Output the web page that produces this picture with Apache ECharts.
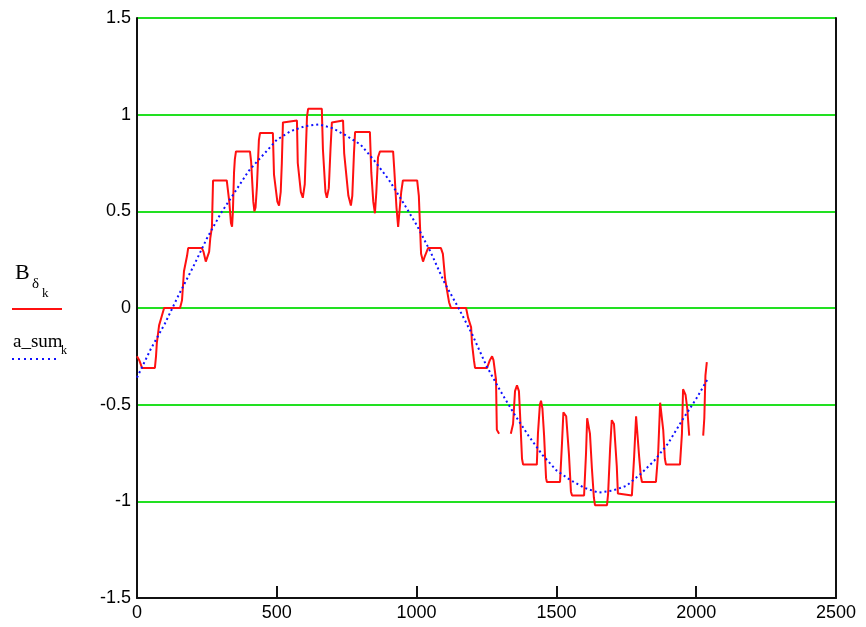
<!DOCTYPE html>
<html>
<head>
<meta charset="utf-8">
<script src="https://cdn.jsdelivr.net/npm/echarts@6/dist/echarts.min.js"></script>
<style>
  html, body { margin: 0; padding: 0; background: #fff; }
  #chart { width: 866px; height: 627px; }
</style>
</head>
<body>
<div id="chart"></div>
<script>
// B_delta_k (red, stepped) - null marks a gap in the trace
const redX = [0, 8, 18, 64, 68, 71, 79, 89, 97, 154, 161, 168, 179, 183, 232, 238, 246, 252, 258, 262, 268, 272,
  321, 330, 336, 340, 343, 347, 350, 354, 404, 408, 416, 420, 424, 429, 436, 440, 486, 490, 502, 508, 514, 518,
  522, 526, 572, 575, 586, 593, 600, 604, 608, 612, 661, 665, 674, 679, 686, 692, 697, 701, 737, 741, 756, 765,
  770, 776, 780, 833, 838, 845, 851, 856, 862, 869, 916, 920, 928, 934, 940, 945, 951, 1002, 1008, 1016, 1023,
  1030, 1041, 1087, 1094, 1102, 1109, 1116, 1123, 1177, 1184, 1195, 1198, 1205, 1209, 1252, 1262, 1270, 1275,
  1284, 1287, 1295, 1316, 1337, 1345, 1352, 1359, 1366, 1370, 1377, 1381, 1430, 1434, 1441, 1445, 1450, 1456,
  1463, 1466, 1513, 1520, 1525, 1530, 1535, 1545, 1552, 1556, 1599, 1606, 1610, 1614, 1620, 1627, 1634, 1638,
  1681, 1685, 1692, 1698, 1702, 1706, 1716, 1720, 1724, 1770, 1778, 1785, 1790, 1796, 1802, 1806, 1856, 1864,
  1871, 1876, 1882, 1888, 1892, 1942, 1949, 1953, 1958, 1962, 1968, 1975, 2000, 2025, 2029, 2033, 2038];
const redY = [-0.25, -0.27, -0.31, -0.31, -0.25, -0.18, -0.09, -0.04, 0.0, 0.0, 0.04, 0.19, 0.27, 0.31, 0.31, 0.29,
  0.24, 0.24, 0.29, 0.36, 0.42, 0.66, 0.66, 0.55, 0.44, 0.42, 0.50, 0.70, 0.77, 0.81, 0.81, 0.76, 0.55, 0.50,
  0.52, 0.63, 0.87, 0.905, 0.905, 0.69, 0.55, 0.53, 0.60, 0.75, 0.96, 0.97, 0.97, 0.75, 0.60, 0.57, 0.64, 0.82,
  0.99, 1.03, 1.03, 0.82, 0.60, 0.57, 0.62, 0.82, 0.96, 0.97, 0.97, 0.80, 0.58, 0.53, 0.58, 0.80, 0.91, 0.91,
  0.70, 0.55, 0.49, 0.60, 0.78, 0.81, 0.81, 0.72, 0.52, 0.42, 0.52, 0.60, 0.66, 0.66, 0.58, 0.28, 0.24, 0.27,
  0.31, 0.31, 0.28, 0.15, 0.09, 0.03, 0.0, 0.0, -0.05, -0.10, -0.18, -0.27, -0.31, -0.31, -0.27, -0.25, -0.27,
  -0.37, -0.63, -0.65, null, -0.65, -0.60, -0.43, -0.40, -0.43, -0.55, -0.78, -0.81, -0.81, -0.65, -0.50, -0.48,
  -0.52, -0.66, -0.88, -0.90, -0.90, -0.70, -0.54, -0.53, -0.56, -0.76, -0.95, -0.97, -0.97, -0.75, -0.57,
  -0.57, -0.65, -0.83, -0.98, -1.02, -1.02, -0.96, -0.73, -0.58, -0.57, -0.60, -0.82, -0.96, -0.97, -0.97,
  -0.77, -0.56, -0.55, -0.77, -0.87, -0.90, -0.90, -0.75, -0.49, -0.48, -0.63, -0.78, -0.81, -0.81, -0.65,
  -0.42, -0.41, -0.45, -0.52, -0.66, null, -0.66, -0.57, -0.35, -0.28];

// a_sum_k (blue, dotted)
const blueX = [0, 50, 100, 150, 200, 250, 300, 350, 400, 450, 500, 550, 600, 650, 700, 750, 800, 850, 900, 950,
  1000, 1050, 1100, 1150, 1200, 1250, 1300, 1350, 1400, 1450, 1500, 1550, 1600, 1650, 1700, 1750, 1800, 1850,
  1900, 1950, 2000, 2040];
const blueY = [-0.36, -0.21, -0.08, 0.07, 0.21, 0.36, 0.49, 0.60, 0.71, 0.79, 0.87, 0.915, 0.94, 0.95, 0.93, 0.89,
  0.845, 0.76, 0.665, 0.55, 0.43, 0.29, 0.13, 0.0, -0.14, -0.30, -0.43, -0.55, -0.66, -0.76, -0.84, -0.89, -0.93,
  -0.955, -0.945, -0.92, -0.86, -0.79, -0.70, -0.58, -0.47, -0.37];

const xTicks = { min: 0, max: 2500, step: 500 };
const yTicks = { min: -1.5, max: 1.5, step: 0.5 };

const redData = redX.map((x, i) => [x, redY[i] === null ? '-' : redY[i]]);
const blueData = blueX.map((x, i) => [x, blueY[i]]);

const labelFont = { color: '#000', fontSize: 18, fontFamily: 'Liberation Sans, Arial, sans-serif' };
const legendFont = 'Liberation Serif, serif';

const chart = echarts.init(document.getElementById('chart'));
chart.setOption({
  animation: false,
  backgroundColor: '#fff',
  grid: { left: 137, right: 30, top: 18, bottom: 29, containLabel: false },
  xAxis: {
    type: 'value',
    min: xTicks.min, max: xTicks.max, interval: xTicks.step,
    axisLine: { show: true, onZero: false, lineStyle: { color: '#111', width: 2 } },
    axisTick: { show: true, inside: true, length: 12, lineStyle: { color: '#111', width: 2 } },
    axisLabel: Object.assign({ margin: 6, showMinLabel: true, showMaxLabel: true, formatter: v => String(v) }, labelFont),
    splitLine: { show: false }
  },
  yAxis: [
    {
      type: 'value',
      min: yTicks.min, max: yTicks.max, interval: yTicks.step,
      axisLine: { show: true, onZero: false, lineStyle: { color: '#111', width: 2 } },
      axisTick: { show: false },
      axisLabel: Object.assign({ margin: 6 }, labelFont),
      splitLine: { show: true, lineStyle: { color: '#22e022', width: 2 } }
    },
    {
      type: 'value', position: 'right',
      min: yTicks.min, max: yTicks.max, interval: yTicks.step,
      axisLine: { show: true, onZero: false, lineStyle: { color: '#111', width: 2 } },
      axisTick: { show: false },
      axisLabel: { show: false },
      splitLine: { show: false }
    }
  ],
  series: [
    {
      name: 'a_sum',
      type: 'line',
      data: blueData,
      symbol: 'none',
      z: 3,
      lineStyle: { color: '#1010ff', width: 2, type: [2, 3] }
    },
    {
      name: 'B',
      type: 'line',
      data: redData,
      symbol: 'none',
      connectNulls: false,
      z: 2,
      lineStyle: { color: '#ff1010', width: 2 }
    }
  ],
  graphic: [
    { type: 'text', left: 15, top: 262, style: { text: 'B', font: '22px ' + legendFont, fill: '#000' } },
    { type: 'text', left: 32, top: 277, style: { text: 'δ', font: '15px ' + legendFont, fill: '#000' } },
    { type: 'text', left: 42, top: 287, style: { text: 'k', font: '13px ' + legendFont, fill: '#000' } },
    { type: 'line', shape: { x1: 12, y1: 309, x2: 62, y2: 309 }, style: { stroke: '#ff1010', lineWidth: 2 } },
    { type: 'text', left: 13, top: 333, style: { text: 'a_sum', font: '19px ' + legendFont, fill: '#000' } },
    { type: 'text', left: 61, top: 345, style: { text: 'k', font: '12px ' + legendFont, fill: '#000' } },
    { type: 'line', shape: { x1: 12, y1: 359, x2: 56, y2: 359 }, style: { stroke: '#1010ff', lineWidth: 2, lineDash: [2, 4] } }
  ]
});
</script>
</body>
</html>
